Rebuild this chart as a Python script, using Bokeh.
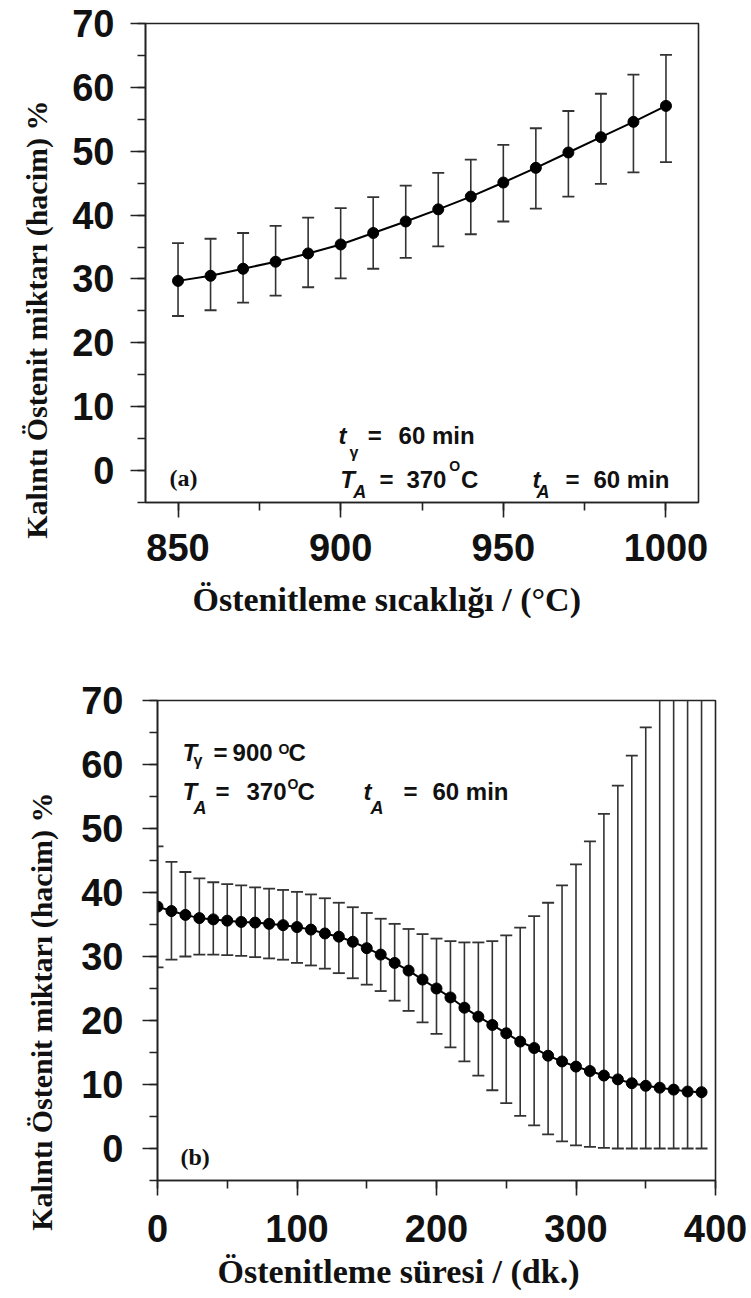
import math
from bokeh.plotting import figure
from bokeh.models import SingleIntervalTicker, Label, Range1d, ColumnDataSource, Title
from bokeh.embed import file_html
from bokeh.resources import INLINE

# ---------------- data: panel (a) ----------------
temp_c = [850, 860, 870, 880, 890, 900, 910, 920, 930, 940, 950, 960, 970, 980, 990, 1000]
ra_temp_mean = [29.7, 30.5, 31.6, 32.7, 34.0, 35.4, 37.2, 39.0, 40.9, 42.9, 45.1, 47.4, 49.8, 52.2, 54.6, 57.1]
ra_temp_upper = [35.6, 36.3, 37.2, 38.3, 39.6, 41.1, 42.8, 44.6, 46.6, 48.7, 51.0, 53.6, 56.3, 59.0, 62.0, 65.1]
ra_temp_lower = [24.2, 25.1, 26.3, 27.4, 28.7, 30.1, 31.6, 33.3, 35.1, 37.0, 39.0, 41.0, 42.9, 44.9, 46.7, 48.3]

# ---------------- data: panel (b) ----------------
time_min = [0, 10, 20, 30, 40, 50, 60, 70, 80, 90, 100, 110, 120, 130, 140, 150, 160, 170, 180, 190,
            200, 210, 220, 230, 240, 250, 260, 270, 280, 290, 300, 310, 320, 330, 340, 350, 360, 370, 380, 390]
ra_time_mean = [37.8, 37.1, 36.5, 36.0, 35.8, 35.6, 35.4, 35.3, 35.1, 34.9, 34.6, 34.2, 33.6, 33.1, 32.3, 31.3,
                30.3, 29.0, 27.8, 26.4, 25.0, 23.6, 22.0, 20.6, 19.3, 18.0, 16.7, 15.7, 14.5, 13.6, 12.8, 12.1,
                11.4, 10.8, 10.2, 9.8, 9.5, 9.2, 8.9, 8.8]
ra_time_upper = [47.2, 44.8, 43.2, 42.2, 41.6, 41.3, 41.1, 40.8, 40.6, 40.4, 40.1, 39.7, 39.1, 38.4, 37.7, 36.8,
                 35.9, 35.1, 34.3, 33.5, 32.8, 32.4, 32.2, 32.2, 32.4, 33.3, 34.5, 36.3, 38.4, 41.1, 44.4, 48.0,
                 52.3, 56.7, 61.4, 65.8, 71.0, 76.0, 82.0, 88.0]
ra_time_lower = [28.3, 29.5, 30.0, 30.3, 30.3, 30.2, 30.1, 29.9, 29.7, 29.5, 29.0, 28.6, 28.1, 27.4, 26.6, 25.6,
                 24.6, 23.1, 21.5, 19.7, 17.9, 15.8, 13.6, 11.4, 9.1, 7.1, 5.1, 3.6, 2.2, 1.1, 0.5, 0.25,
                 0.1, 0.0, 0.0, 0.0, 0.0, 0.0, 0.0, 0.0]

y_label = "Kalıntı Östenit miktarı (hacim) %"
x_label_a = "Östenitleme sıcaklığı / (°C)"
x_label_b = "Östenitleme süresi / (dk.)"

SANS = "Liberation Sans"
SERIF = "Liberation Serif"


def make_panel(x, mean, upper, lower, xr, x_interval, height, borders, y_standoff, x_standoff):
    top, right, bottom, left = borders
    p = figure(width=751, height=height, output_backend="svg", toolbar_location=None,
               x_range=Range1d(*xr), y_range=Range1d(-5, 70),
               min_border_top=top, min_border_right=right, min_border_bottom=bottom,
               min_border_left=left)
    p.background_fill_color = "white"
    p.border_fill_color = "white"
    p.outline_line_color = "#222222"
    p.outline_line_width = 1.6
    p.grid.visible = False

    p.xaxis.ticker = SingleIntervalTicker(interval=x_interval, num_minor_ticks=2)
    p.yaxis.ticker = SingleIntervalTicker(interval=10, num_minor_ticks=2)
    for ax in (p.xaxis, p.yaxis):
        ax.axis_line_color = "#222222"
        ax.axis_line_width = 1.6
        ax.major_tick_line_color = "#222222"
        ax.major_tick_line_width = 1.6
        ax.minor_tick_line_color = "#222222"
        ax.minor_tick_line_width = 1.6
        ax.major_tick_in = 0
        ax.major_tick_out = 15
        ax.minor_tick_in = 0
        ax.minor_tick_out = 8
        ax.major_label_text_font = SANS
        ax.major_label_text_font_style = "bold"
        ax.major_label_text_font_size = "38px"
        ax.major_label_text_color = "#111111"
    p.yaxis.major_label_standoff = y_standoff
    p.xaxis.major_label_standoff = x_standoff

    src = ColumnDataSource(dict(x=x, m=mean, u=upper, l=lower))
    p.segment(x0="x", y0="l", x1="x", y1="u", source=src, line_color="#333333", line_width=1.6)
    p.scatter(x="x", y="u", source=src, marker="dash", size=12, line_color="#333333", line_width=1.8)
    p.scatter(x="x", y="l", source=src, marker="dash", size=12, line_color="#333333", line_width=1.8)
    p.line(x="x", y="m", source=src, line_color="black", line_width=2)
    p.scatter(x="x", y="m", source=src, size=11, fill_color="black", line_color="black")
    return p


def txt(p, x, y, text, size, style="bold", font=SANS, baseline="alphabetic",
        align="left", color="#111111"):
    p.add_layout(Label(x=x, y=y, text=text,
                       text_font=font, text_font_size=size, text_font_style=style,
                       text_baseline=baseline, text_align=align, text_color=color))


def axis_title(p, text, side, align, offset, standoff, size):
    p.add_layout(Title(text=text, align=align, offset=offset, standoff=standoff,
                       text_font=SERIF, text_font_size=size, text_font_style="bold",
                       text_color="#111111"), side)


# ---------------- panel (a) ----------------
pa = make_panel(temp_c, ra_temp_mean, ra_temp_upper, ra_temp_lower, (840, 1010), 50, 640,
                (23, 53, 138, 145), 16, 16)
# t_gamma = 60 min
txt(pa, 899.3, 5.49, "t", "24px", "bold italic")
txt(pa, 902.7, 2.83, "γ", "16px", "bold")
txt(pa, 908.3, 5.49, "=", "24px")
txt(pa, 917.8, 5.49, "60 min", "24px")
# T_A = 370 °C
txt(pa, 899.9, -1.40, "T", "24px", "bold italic")
txt(pa, 903.9, -3.28, "A", "18px", "bold italic")
txt(pa, 911.9, -1.40, "=", "24px")
txt(pa, 920.2, -1.40, "370", "24px")
txt(pa, 933.4, 0.79, "O", "14px")
txt(pa, 937.0, -1.40, "C", "24px")
# t_A = 60 min
txt(pa, 959.0, -1.40, "t", "24px", "bold italic")
txt(pa, 960.2, -3.28, "A", "18px", "bold italic")
txt(pa, 969.1, -1.40, "=", "24px")
txt(pa, 977.7, -1.40, "60 min", "24px")
txt(pa, 847.4, -1.24, "(a)", "24px", "bold", font=SERIF, baseline="middle")
axis_title(pa, x_label_a, "below", "left", 47, 31, "34px")
axis_title(pa, y_label, "left", "right", 77, 34, "30px")

# ---------------- panel (b) ----------------
pb = make_panel(time_min, ra_time_mean, ra_time_upper, ra_time_lower, (0, 400), 100, 658,
                (60, 36, 118, 157), 19, 19)
# T_gamma = 900 °C
txt(pb, 17.9, 61.88, "T", "24px", "bold italic")
txt(pb, 25.8, 60.63, "γ", "16px", "bold")
txt(pb, 40.1, 61.88, "=", "24px")
txt(pb, 53.8, 61.88, "900", "24px")
txt(pb, 86.7, 62.5, "O", "14px")
txt(pb, 93.9, 61.88, "C", "24px")
# T_A = 370 °C
txt(pb, 17.9, 55.78, "T", "24px", "bold italic")
txt(pb, 25.8, 53.28, "A", "18px", "bold italic")
txt(pb, 41.6, 55.78, "=", "24px")
txt(pb, 63.8, 55.78, "370", "24px")
txt(pb, 93.2, 57.03, "O", "14px")
txt(pb, 100.4, 55.78, "C", "24px")
# t_A = 60 min
txt(pb, 147.7, 55.78, "t", "24px", "bold italic")
txt(pb, 152.7, 53.28, "A", "18px", "bold italic")
txt(pb, 176.4, 55.78, "=", "24px")
txt(pb, 197.1, 55.78, "60 min", "24px")
txt(pb, 16.5, -1.4, "(b)", "24px", "bold", font=SERIF, baseline="middle")
axis_title(pb, x_label_b, "below", "left", 60, 13, "34px")
axis_title(pb, y_label, "left", "right", 92, 42, "30px")

open("out.html", "w").write(file_html([pa, pb], INLINE))
